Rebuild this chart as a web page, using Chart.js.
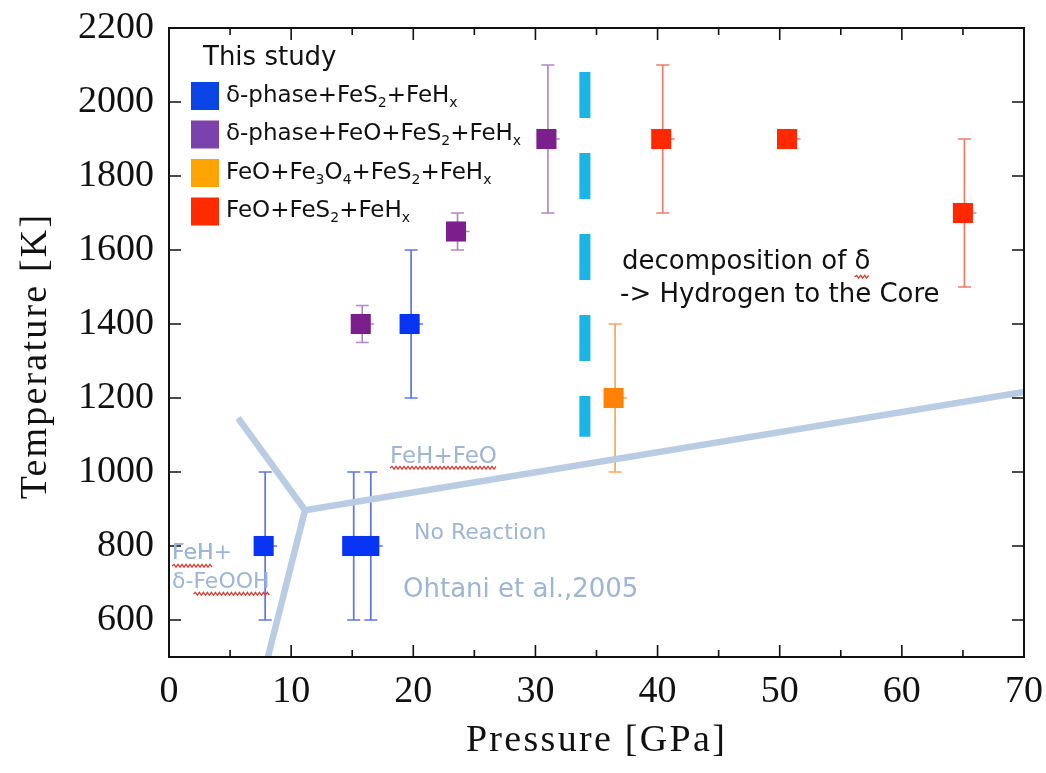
<!DOCTYPE html>
<html>
<head>
<meta charset="utf-8">
<script src="https://cdn.jsdelivr.net/npm/chart.js@4.4.1/dist/chart.umd.min.js"></script>
<style>
  html, body { margin: 0; padding: 0; background: #fff; }
  canvas { display: block; }
</style>
</head>
<body>
<canvas id="myChart" width="1046" height="773"></canvas>
<script>
// pressure [GPa], temperature [K], error bar limits [K]
const blueP = [7.75, 15.0, 16.4, 19.7];
const blueT = [800, 800, 800, 1400];
const blueLo = [600, 600, 600, 1200];
const blueHi = [1000, 1000, 1000, 1600];

const purpleP = [15.7, 23.5, 30.9];
const purpleT = [1400, 1650, 1900];
const purpleLo = [1350, 1600, 1700];
const purpleHi = [1450, 1700, 2100];

const orangeP = [36.4];
const orangeT = [1200];
const orangeLo = [1000];
const orangeHi = [1400];

const redP = [40.3, 50.6, 65.0];
const redT = [1900, 1900, 1700];
const redLo = [1700, 1880, 1500];
const redHi = [2100, 1920, 1900];

// Ohtani et al. 2005 phase boundary (triple point + three branches)
const boundUpperP = [5.65, 11.14, 70];
const boundUpperT = [1146, 897, 1216];
const boundLowerP = [11.14, 8.1];
const boundLowerT = [897, 500];

// decomposition line
const decompP = [34.05, 34.05];
const decompT = [2081, 1095];

const xTicks = [0, 10, 20, 30, 40, 50, 60, 70];
const yTicks = [600, 800, 1000, 1200, 1400, 1600, 1800, 2000, 2200];

const pts = (xs, ys) => xs.map((x, i) => ({ x: x, y: ys[i] }));

const series = [
  { label: "δ-phase+FeS2+FeHx", p: blueP, t: blueT, lo: blueLo, hi: blueHi, color: "#0634f2", bar: "#5d74ef" },
  { label: "δ-phase+FeO+FeS2+FeHx", p: purpleP, t: purpleT, lo: purpleLo, hi: purpleHi, color: "#7a1f8b", bar: "#b486c4" },
  { label: "FeO+Fe3O4+FeS2+FeHx", p: orangeP, t: orangeT, lo: orangeLo, hi: orangeHi, color: "#ff8204", bar: "#f7a85a" },
  { label: "FeO+FeS2+FeHx", p: redP, t: redT, lo: redLo, hi: redHi, color: "#ff2800", bar: "#f17b6c" },
];

// legend entries: [text, 1 = subscript]
const legendSwatch = ["#0a43e6", "#7b42ae", "#ffa400", "#ff2a00"];
const legendText = [
  [["δ-phase+FeS"], ["2", 1], ["+FeH"], ["x", 1]],
  [["δ-phase+FeO+FeS"], ["2", 1], ["+FeH"], ["x", 1]],
  [["FeO+Fe"], ["3", 1], ["O"], ["4", 1], ["+FeS"], ["2", 1], ["+FeH"], ["x", 1]],
  [["FeO+FeS"], ["2", 1], ["+FeH"], ["x", 1]],
];

const SANS = '"DejaVu Sans", Verdana, sans-serif';
const SERIF = '"Liberation Serif", "Times New Roman", serif';
const LIGHT = "#9db5d6";

function richText(ctx, x, y, parts, size) {
  let cx = x;
  parts.forEach(p => {
    const sub = p[1] === 1;
    ctx.font = (sub ? Math.round(size * 0.62) : size) + "px " + SANS;
    ctx.fillText(p[0], cx, sub ? y + size * 0.3 : y);
    cx += ctx.measureText(p[0]).width;
  });
}

function squiggle(ctx, x0, x1, y) {
  ctx.save();
  ctx.strokeStyle = "#e3342b";
  ctx.lineWidth = 1.2;
  ctx.beginPath();
  let up = true;
  ctx.moveTo(x0, y);
  for (let x = x0 + 2; x <= x1; x += 2) {
    ctx.lineTo(x, up ? y - 1.6 : y + 1.2);
    up = !up;
  }
  ctx.stroke();
  ctx.restore();
}

// text with a red wavy underline below part of it
function markedText(ctx, x, y, before, marked, lineY) {
  ctx.fillText(before + marked, x, y);
  const x0 = x + ctx.measureText(before).width;
  const x1 = x0 + ctx.measureText(marked).width;
  squiggle(ctx, x0, x1, lineY);
}

//error bars under the markers
const errorBars = {
  id: "errorBars",
  beforeDatasetsDraw(chart) {
    const ctx = chart.ctx;
    const xs = chart.scales.x, ys = chart.scales.y;
    ctx.save();
    ctx.lineWidth = 1.7;
    series.forEach(s => {
      ctx.strokeStyle = s.bar;
      s.p.forEach((p, i) => {
        const px = xs.getPixelForValue(p) + 1.5;
        const y1 = ys.getPixelForValue(s.lo[i]);
        const y2 = ys.getPixelForValue(s.hi[i]);
        ctx.beginPath();
        ctx.moveTo(px, y1); ctx.lineTo(px, y2);
        ctx.moveTo(px - 6.5, y1); ctx.lineTo(px + 6.5, y1);
        ctx.moveTo(px - 6.5, y2); ctx.lineTo(px + 6.5, y2);
        // short stub to the right of the marker
        const py = ys.getPixelForValue(s.t[i]);
        ctx.moveTo(px, py); ctx.lineTo(px + 12, py);
        ctx.stroke();
      });
    });
    ctx.restore();
  }
};

//frame, inward ticks, texts, legend
const decorations = {
  id: "decorations",
  afterDraw(chart) {
    const ctx = chart.ctx;
    const a = chart.chartArea;
    const xs = chart.scales.x, ys = chart.scales.y;
    ctx.save();

    // frame
    ctx.strokeStyle = "#111";
    ctx.lineWidth = 2;
    ctx.strokeRect(a.left, a.top, a.right - a.left, a.bottom - a.top);

    // ticks
    ctx.lineWidth = 1.6;
    ctx.beginPath();
    for (let v = 5; v < 70; v += 5) {
      const px = xs.getPixelForValue(v);
      const len = v % 10 === 0 ? 12 : 7;
      ctx.moveTo(px, a.bottom); ctx.lineTo(px, a.bottom - len);
      ctx.moveTo(px, a.top); ctx.lineTo(px, a.top + len);
    }
    yTicks.forEach(v => {
      if (v >= 2200) return;
      const py = ys.getPixelForValue(v);
      ctx.moveTo(a.left, py); ctx.lineTo(a.left + 12, py);
      ctx.moveTo(a.right, py); ctx.lineTo(a.right - 12, py);
    });
    ctx.stroke();

    // axis titles
    ctx.fillStyle = "#111";
    ctx.font = "38px " + SERIF;
    ctx.textAlign = "center";
    ctx.textBaseline = "middle";
    ctx.letterSpacing = "2.3px";
    ctx.fillText("Pressure [GPa]", (a.left + a.right) / 2, 741);
    ctx.save();
    ctx.textBaseline = "alphabetic";
    ctx.letterSpacing = "2.2px";
    ctx.translate(46, 356);
    ctx.rotate(-Math.PI / 2);
    ctx.fillText("Temperature [K]", 0, 0);
    ctx.restore();
    ctx.letterSpacing = "0px";

    // phase-diagram labels
    ctx.textAlign = "left";
    ctx.fillStyle = LIGHT;
    ctx.font = "23px " + SANS;
    markedText(ctx, 390, 457, "", "FeH+FeO", 468);
    ctx.font = "22px " + SANS;
    ctx.fillText("No Reaction", 414, 533);
    markedText(ctx, 172, 553, "", "FeH", 566);
    ctx.fillText("FeH+", 172, 553);
    markedText(ctx, 172, 582, "δ-", "FeOOH", 594);
    ctx.font = "26px " + SANS;
    ctx.fillText("Ohtani et al.,2005", 403, 590);

    ctx.fillStyle = "#111";
    ctx.font = "26px " + SANS;
    markedText(ctx, 622, 262, "decomposition of ", "δ", 277);
    ctx.fillText("-> Hydrogen to the Core", 620, 295);

    // legend
    ctx.font = "26px " + SANS;
    ctx.fillText("This study", 203, 58);
    legendText.forEach((parts, i) => {
      const cy = 96 + i * 38.5;
      ctx.fillStyle = legendSwatch[i];
      ctx.fillRect(191, cy - 14, 28, 28);
      ctx.fillStyle = "#111";
      richText(ctx, 226, cy, parts, 23);
    });

    ctx.restore();
  }
};

const datasets = series.map(s => ({
  type: "scatter",
  label: s.label,
  data: pts(s.p, s.t),
  pointStyle: "rect",
  pointRadius: 14.2,
  pointHoverRadius: 14.2,
  backgroundColor: s.color,
  borderColor: s.color,
  borderWidth: 0,
  order: 0,
}));

datasets.push(
  {
    type: "line", label: "boundary1", data: pts(boundUpperP, boundUpperT),
    borderColor: "#b9cce3", borderWidth: 6.5, pointRadius: 0, fill: false, tension: 0, order: 2,
    borderJoinStyle: "miter",
  },
  {
    type: "line", label: "boundary2", data: pts(boundLowerP, boundLowerT),
    borderColor: "#b9cce3", borderWidth: 6.5, pointRadius: 0, fill: false, tension: 0, order: 2,
  },
  {
    type: "line", label: "decomposition", data: pts(decompP, decompT),
    borderColor: "#1ab4e6", borderWidth: 11, borderDash: [46, 35], borderCapStyle: "butt",
    pointRadius: 0, fill: false, order: 1,
  }
);

new Chart(document.getElementById("myChart"), {
  data: { datasets: datasets },
  options: {
    responsive: false,
    animation: false,
    devicePixelRatio: 1,
    layout: { padding: { left: 0, top: 28, right: 22, bottom: 0 } },
    plugins: { legend: { display: false }, tooltip: { enabled: false } },
    scales: {
      x: {
        type: "linear", min: 0, max: 70,
        afterFit: s => { s.height = 116; s.paddingLeft = 0; s.paddingRight = 0; },
        afterBuildTicks: s => { s.ticks = xTicks.map(v => ({ value: v })); },
        grid: { display: false, drawTicks: false },
        border: { display: false },
        ticks: { color: "#111", padding: 12, maxRotation: 0, callback: v => String(v), font: { family: SERIF, size: 38 } },
      },
      y: {
        type: "linear", min: 500, max: 2200,
        afterFit: s => { s.width = 169; s.paddingTop = 0; s.paddingBottom = 0; },
        afterBuildTicks: s => { s.ticks = yTicks.map(v => ({ value: v })); },
        grid: { display: false, drawTicks: false },
        border: { display: false },
        ticks: { color: "#111", padding: 15, callback: v => String(v), font: { family: SERIF, size: 38 } },
      },
    },
  },
  plugins: [errorBars, decorations],
});
</script>
</body>
</html>
